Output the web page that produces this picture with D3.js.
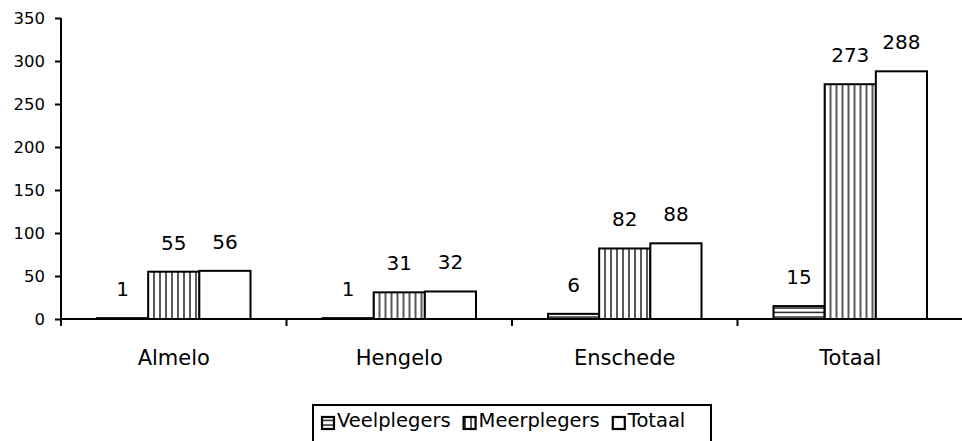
<!DOCTYPE html>
<html><head><meta charset="utf-8">
<script src="https://cdn.jsdelivr.net/npm/d3@7"></script>
<style>body{margin:0;background:#fff}svg{display:block}text{font-family:"DejaVu Sans",Verdana,sans-serif;fill:#000}</style>
</head><body>
<svg id="c" width="962" height="441"></svg>
<script>
const categories = ["Almelo", "Hengelo", "Enschede", "Totaal"];
const seriesNames = ["Veelplegers", "Meerplegers", "Totaal"];
const veelplegers = [1, 1, 6, 15];
const meerplegers = [55, 31, 82, 273];
const totaal = [56, 32, 88, 288];
const yTicks = [0, 50, 100, 150, 200, 250, 300, 350];

const seriesValues = [veelplegers, meerplegers, totaal];
const svg = d3.select("#c");
const defs = svg.append("defs");
const ph = defs.append("pattern").attr("id","ph").attr("patternUnits","userSpaceOnUse").attr("width",6).attr("height",4.5);
ph.append("rect").attr("width",6).attr("height",4.5).attr("fill","#fff");
ph.append("line").attr("x1",0).attr("x2",6).attr("y1",2).attr("y2",2).attr("stroke","#000").attr("stroke-width",1.3);
const pv = defs.append("pattern").attr("id","pv").attr("patternUnits","userSpaceOnUse").attr("width",6).attr("height",6);
pv.append("rect").attr("width",6).attr("height",6).attr("fill","#fff");
pv.append("line").attr("y1",0).attr("y2",6).attr("x1",3).attr("x2",3).attr("stroke","#000").attr("stroke-width",1.3);
const fills = ["url(#ph)", "url(#pv)", "#fff"];

const x0 = d3.scaleBand().domain(categories).range([61, 963]).paddingInner(0).paddingOuter(0);
const x1 = d3.scaleBand().domain(seriesNames).range([36, x0.bandwidth()-36]);
const y = d3.scaleLinear().domain([0, 350]).range([319, 18]);

// bars
categories.forEach((c, ci) => {
  const g = svg.append("g").attr("transform", `translate(${x0(c)},0)`);
  seriesNames.forEach((s, si) => {
    const v = seriesValues[si][ci];
    g.append("rect").attr("x", x1(s)).attr("y", y(v)).attr("width", x1.bandwidth()).attr("height", y(0)-y(v))
      .attr("fill", fills[si]).attr("stroke", "#000").attr("stroke-width", 2);
    g.append("text").attr("x", x1(s)+x1.bandwidth()/2).attr("y", y(v)-22).attr("text-anchor","middle")
      .style("font-size","20px").text(v);
  });
});

// y axis
const ya = svg.append("g").attr("transform","translate(61,0)")
  .call(d3.axisLeft(y).tickValues(yTicks).tickSize(6).tickPadding(10).tickFormat(d3.format("d")));
ya.select(".domain").attr("stroke","#000").attr("stroke-width",2).attr("d","M0,18V326");
ya.selectAll(".tick line").attr("stroke","#000").attr("stroke-width",2);
ya.selectAll(".tick text").style("font-size","16.5px").attr("font-family",null);

// x axis
const xa = svg.append("g").attr("transform","translate(0,319)")
  .call(d3.axisBottom(x0).tickSize(0).tickPadding(31));
xa.select(".domain").attr("stroke","#000").attr("stroke-width",2).attr("d","M61,0H963");
xa.selectAll(".tick text").style("font-size","21px").attr("font-family",null);
const bounds = categories.map(c => x0(c)).concat([x0(categories[3])+x0.bandwidth()]);
xa.selectAll(".sep").data(bounds.slice(1,4)).enter().append("line")
  .attr("x1", d=>d).attr("x2", d=>d).attr("y1",0).attr("y2",7).attr("stroke","#000").attr("stroke-width",2);

// legend
const lg = svg.append("g");
lg.append("rect").attr("x",313).attr("y",405).attr("width",398).attr("height",60).attr("fill","#fff").attr("stroke","#000").attr("stroke-width",2);
let lx = 322;
seriesNames.forEach((s, si) => {
  lg.append("rect").attr("x", lx).attr("y", 417).attr("width", 12).attr("height", 12).attr("fill", fills[si]).attr("stroke","#000").attr("stroke-width",2.2);
  const t = lg.append("text").attr("x", lx+15).attr("y", 427).style("font-size","19.5px").text(s);
  lx += 15 + t.node().getComputedTextLength() + 13;
});
</script>
</body></html>
